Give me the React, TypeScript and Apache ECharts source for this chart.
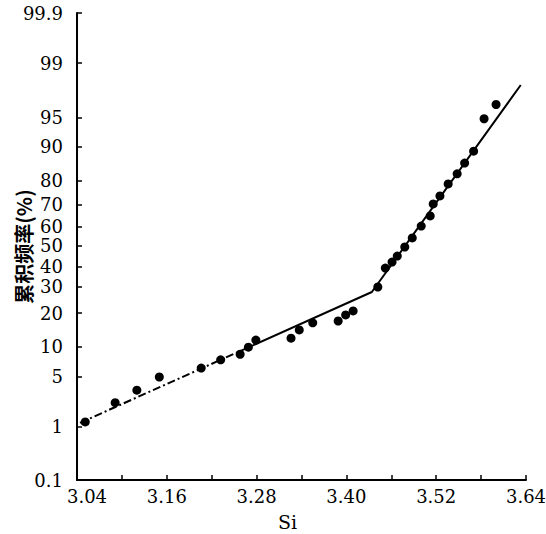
import React, { useEffect, useRef } from "react";
import * as echarts from "echarts";

// Probability-paper y scale: tick percentages and where the paper places them (0..100 of axis height)
const TICK_PCT = [0.1, 1, 5, 10, 20, 30, 40, 50, 60, 70, 80, 90, 95, 99, 99.9];
const TICK_LABELS = ["0.1", "1", "5", "10", "20", "30", "40", "50", "60", "70", "80", "90", "95", "99", "99.9"];
const PAPER_POS = [0, 11.35, 22.06, 28.55, 35.76, 41.33, 45.67, 50.11, 54.24, 58.89, 64.09, 71.31, 77.52, 89.29, 100];

// x axis
const X_MIN = 3.04;
const X_MAX = 3.64;
const X_LABELS = [3.04, 3.16, 3.28, 3.4, 3.52, 3.64];
const X_TICKS = [3.04, 3.1, 3.16, 3.22, 3.28, 3.34, 3.4, 3.46, 3.52, 3.58, 3.64];

// observed points
const POINT_SI = [3.051, 3.091, 3.12, 3.15, 3.206, 3.232, 3.258, 3.269, 3.279, 3.326, 3.337, 3.355, 3.389, 3.399, 3.409, 3.442, 3.452, 3.461, 3.468, 3.478, 3.488, 3.5, 3.512, 3.516, 3.525, 3.536, 3.548, 3.558, 3.57, 3.584, 3.6];
const POINT_PCT = [1.2, 2.3, 3.4, 5.0, 6.2, 7.5, 8.5, 9.9, 11.6, 12.1, 14.4, 16.6, 17.2, 19.3, 20.7, 30.0, 39.3, 42.2, 45.1, 49.5, 54.2, 60.3, 65.1, 70.5, 74.0, 78.8, 82.4, 85.8, 89.0, 94.9, 96.5];

// fitted broken line
const FIT_EXT_SI = [3.044, 3.258];
const FIT_EXT_PCT = [1.16, 9.1];
const FIT_SI = [3.258, 3.434, 3.633];
const FIT_PCT = [9.1, 27.9, 98.0];

function probit(p: number): number {
  const a = [-3.969683028665376e1, 2.209460984245205e2, -2.759285104469687e2, 1.38357751867269e2, -3.066479806614716e1, 2.506628277459239];
  const b = [-5.447609879822406e1, 1.615858368580409e2, -1.556989798598866e2, 6.680131188771972e1, -1.328068155288572e1];
  const c = [-7.784894002430293e-3, -3.223964580411365e-1, -2.400758277161838, -2.549732517757358, 4.374664141464968, 2.938163982698783];
  const d = [7.784695709041462e-3, 3.224671290700398e-1, 2.445134137142996, 3.754408661907416];
  const plow = 0.02425;
  if (p < plow) {
    const q = Math.sqrt(-2 * Math.log(p));
    return (((((c[0] * q + c[1]) * q + c[2]) * q + c[3]) * q + c[4]) * q + c[5]) / ((((d[0] * q + d[1]) * q + d[2]) * q + d[3]) * q + 1);
  }
  if (p <= 1 - plow) {
    const q = p - 0.5;
    const r = q * q;
    return ((((((a[0] * r + a[1]) * r + a[2]) * r + a[3]) * r + a[4]) * r + a[5]) * q) / (((((b[0] * r + b[1]) * r + b[2]) * r + b[3]) * r + b[4]) * r + 1);
  }
  const q = Math.sqrt(-2 * Math.log(1 - p));
  return -(((((c[0] * q + c[1]) * q + c[2]) * q + c[3]) * q + c[4]) * q + c[5]) / ((((d[0] * q + d[1]) * q + d[2]) * q + d[3]) * q + 1);
}

const TICK_Z = TICK_PCT.map((p) => probit(p / 100));

function toPaper(pct: number): number {
  const z = probit(pct / 100);
  for (let i = 0; i < TICK_Z.length - 1; i++) {
    if (z <= TICK_Z[i + 1] || i === TICK_Z.length - 2) {
      const f = (z - TICK_Z[i]) / (TICK_Z[i + 1] - TICK_Z[i]);
      return PAPER_POS[i] + f * (PAPER_POS[i + 1] - PAPER_POS[i]);
    }
  }
  return 0;
}

const serif = "DejaVu Serif";

export default function App() {
  const ref = useRef<HTMLDivElement>(null);
  useEffect(() => {
    if (!ref.current) return;
    const chart = echarts.init(ref.current, null, { renderer: "svg" });
    const points = POINT_SI.map((s, i) => [s, toPaper(POINT_PCT[i])]);
    const ext = FIT_EXT_SI.map((s, i) => [s, toPaper(FIT_EXT_PCT[i])]);
    const fit = FIT_SI.map((s, i) => [s, toPaper(FIT_PCT[i])]);
    chart.setOption({
      animation: false,
      backgroundColor: "#ffffff",
      grid: { left: 77, right: 20, top: 13, bottom: 54, containLabel: false, outerBoundsMode: "none" },
      xAxis: {
        type: "value",
        min: X_MIN,
        max: X_MAX,
        name: "Si",
        nameLocation: "middle",
        nameGap: 32,
        nameMoveOverlap: false,
        nameTextStyle: { fontFamily: serif, fontSize: 19, color: "#000", padding: [0, 28, 0, 0] },
        splitLine: { show: false },
        axisLine: { lineStyle: { color: "#000", width: 2 } },
        axisTick: { show: true, inside: true, length: 5, lineStyle: { color: "#000", width: 1.5 }, customValues: X_TICKS },
        axisLabel: {
          color: "#000",
          fontFamily: serif,
          fontSize: 18,
          margin: 7,
          hideOverlap: false,
          customValues: X_LABELS,
          formatter: (v: number) => (Math.abs(v - X_MIN) < 1e-9 ? "{first|" + v.toFixed(2) + "}" : v.toFixed(2)),
          rich: {
            first: { fontFamily: serif, fontSize: 18, color: "#000", padding: [0, 0, 0, 20] },
          },
        },
      },
      yAxis: {
        type: "value",
        min: 0,
        max: 100,
        name: "累积频率(%)",
        nameLocation: "middle",
        nameRotate: 90,
        nameGap: 44,
        nameMoveOverlap: false,
        nameTextStyle: { fontFamily: "Noto Sans CJK SC", fontWeight: "bold", fontSize: 20, color: "#000" },
        splitLine: { show: false },
        axisLine: { show: true, lineStyle: { color: "#000", width: 2 } },
        axisTick: { show: true, inside: true, length: 5, lineStyle: { color: "#000", width: 1.5 }, customValues: PAPER_POS },
        axisLabel: {
          color: "#000",
          fontFamily: serif,
          fontSize: 18,
          lineHeight: 14,
          margin: 14,
          hideOverlap: false,
          customValues: PAPER_POS,
          formatter: (v: number) => {
            const i = PAPER_POS.findIndex((p) => Math.abs(p - v) < 1e-6);
            return i >= 0 ? TICK_LABELS[i] : "";
          },
        },
      },
      series: [
        {
          type: "line",
          data: ext,
          symbol: "none",
          lineStyle: { color: "#000", width: 2, type: [8, 3, 2, 3] },
          z: 2,
        },
        {
          type: "line",
          data: fit,
          symbol: "none",
          lineStyle: { color: "#000", width: 2 },
          z: 2,
        },
        {
          type: "scatter",
          data: points,
          symbol: "circle",
          symbolSize: 9,
          itemStyle: { color: "#000", opacity: 1 },
          z: 3,
        },
      ],
    });
    return () => chart.dispose();
  }, []);
  return <div ref={ref} style={{ position: "fixed", left: 0, top: 0, width: 546, height: 534, background: "#fff" }} />;
}
